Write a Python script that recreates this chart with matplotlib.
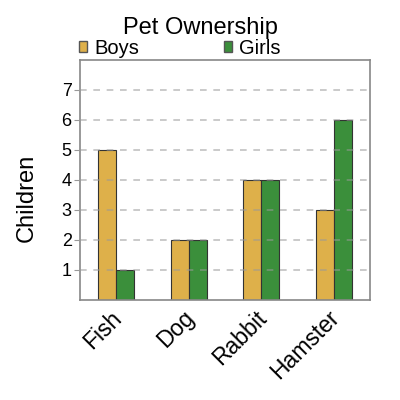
import matplotlib
matplotlib.use("Agg")
import matplotlib.pyplot as plt
import matplotlib.transforms as mtransforms
import numpy as np
from matplotlib.patches import Patch

categories = ["Fish", "Dog", "Rabbit", "Hamster"]
boys = [5, 2, 4, 3]
girls = [1, 2, 4, 6]
yticks = [1, 2, 3, 4, 5, 6, 7]

plt.rcParams['font.family'] = ['Liberation Sans', 'DejaVu Sans']

fig = plt.figure(figsize=(4, 4), dpi=100)
ax = fig.add_axes([0.20, 0.25, 0.725, 0.60])

x = np.arange(len(categories))
w = 0.25
c_boys = "#DEB04A"
c_girls = "#3B8F3B"
ax.bar(x - w / 2, boys, w, color=c_boys, edgecolor="#333333", linewidth=0.8, zorder=2)
ax.bar(x + w / 2, girls, w, color=c_girls, edgecolor="#333333", linewidth=0.8, zorder=2)

ax.set_xlim(-0.5, 3.5)
ax.set_ylim(0, 8)
ax.set_yticks(yticks)
ax.yaxis.grid(True, linestyle=(0, (4, 4)), color="#999999", alpha=0.6, linewidth=1.2, zorder=3)
ax.set_axisbelow(False)
ax.set_xticks(x)
ax.set_xticklabels([])
offset = mtransforms.ScaledTranslation(-0.065, -0.065, fig.dpi_scale_trans)
for xi, name in zip(x, categories):
    ax.text(xi, 0, name, transform=ax.get_xaxis_transform() + offset,
            rotation=45, ha="right", va="top", rotation_mode="anchor", fontsize=16.5)
ax.tick_params(axis="y", labelsize=13, length=4, color="#999999", pad=2)
ax.tick_params(axis="x", length=0, pad=5)
for s in ax.spines.values():
    s.set_color("#888888")
    s.set_linewidth(1.2)
ax.set_ylabel("Children", fontsize=17, labelpad=12)
ax.yaxis.set_label_coords(-0.145, 0.425)

fig.text(0.5, 0.93, "Pet Ownership", ha="center", va="center", fontsize=17)
handles = [Patch(facecolor=c_boys, edgecolor="#555555", label="Boys"),
           Patch(facecolor=c_girls, edgecolor="#555555", label="Girls")]
ax.legend(handles=handles, ncol=2, loc="lower left", bbox_to_anchor=(-0.005, 1.01),
          frameon=False, fontsize=14.5, handlelength=0.42, handleheight=0.42,
          handletextpad=0.35, columnspacing=4.2, borderaxespad=0, borderpad=0)

fig.savefig("out.png", dpi=100)
